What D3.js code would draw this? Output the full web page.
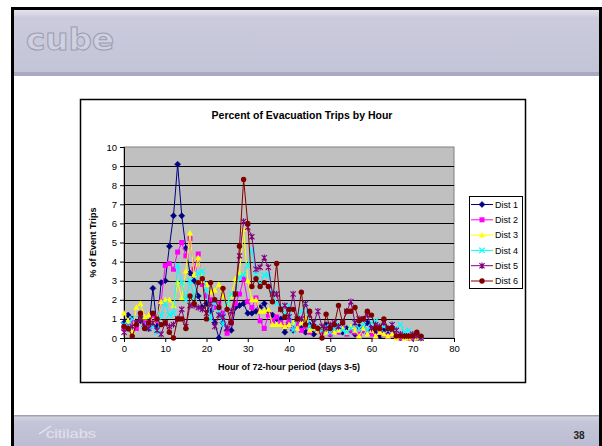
<!DOCTYPE html>
<html>
<head>
<meta charset="utf-8">
<script src="https://cdn.jsdelivr.net/npm/d3@7"></script>
<style>
  body { margin: 0; background: #fff; }
  svg { display: block; }
  text { font-family: "Liberation Sans", Arial, sans-serif; }
</style>
</head>
<body>
<svg id="chart" width="602" height="446"></svg>
<script>
// Hourly share of evacuation trips (percent) for each district, hours 0..72
const hours = d3.range(0, 73);

const dist1 = [0.8,1.2,1.0,0.8,0.9,0.6,0.5,2.6,0.6,2.9,3.0,4.8,6.4,9.1,6.4,4.7,3.4,3.0,2.2,1.6,
  1.8,1.4,0.8,0.0,0.8,0.4,0.4,1.6,1.7,1.8,1.3,1.3,1.4,1.6,1.8,1.3,1.2,1.0,1.0,0.3,
  0.8,0.4,0.7,0.5,0.3,0.7,0.2,0.5,0.4,0.7,0.2,0.4,0.6,0.3,0.5,0.4,0.2,0.6,0.4,0.8,
  0.5,0.3,0.1,0.4,0.2,0.3,0.1,0.0,0.1,0.0,0.0,0.0,0.0];

const dist2 = [0.5,0.6,0.9,0.5,1.1,0.8,0.7,1.2,0.9,1.9,3.8,3.9,3.6,4.5,5.0,4.3,5.2,3.6,4.4,2.8,
  2.2,2.0,1.6,1.8,1.3,0.25,0.8,1.8,2.3,3.1,1.9,1.6,2.1,0.9,0.5,1.2,0.9,1.1,0.8,0.6,
  0.9,0.5,0.7,0.4,0.6,0.3,0.5,0.4,0.3,0.5,0.2,0.4,0.3,0.5,0.2,0.4,0.3,0.2,0.4,0.3,
  0.2,0.1,0.3,0.2,0.1,0.2,0.1,0.0,0.1,0.0,0.0,0.0,0.0];

const dist3 = [1.3,0.9,0.3,1.6,1.8,1.1,1.2,0.8,1.0,1.9,2.0,2.0,1.7,2.9,2.1,3.5,5.5,3.3,4.2,3.0,
  2.8,2.4,2.5,2.8,2.2,1.8,2.2,3.1,3.4,5.7,3.0,2.0,2.0,1.4,1.4,1.5,0.7,0.7,0.7,0.6,
  0.7,0.8,0.5,0.8,1.0,0.4,0.5,0.4,0.6,0.3,0.5,0.3,0.4,0.5,0.3,0.6,0.4,0.1,0.5,0.2,
  0.4,0.1,0.3,0.2,0.1,0.2,0.0,0.1,0.0,0.0,0.1,0.0,0.0];

const dist4 = [0.7,0.6,1.0,0.8,1.0,0.7,0.5,0.6,0.3,1.2,1.8,1.2,1.3,3.8,2.9,2.0,3.0,2.1,3.4,3.5,
  2.5,1.0,1.9,1.4,0.7,1.8,2.3,2.3,3.2,3.3,3.8,4.6,3.3,2.8,3.3,3.3,2.4,1.8,1.6,1.3,
  1.7,0.4,1.0,1.4,1.8,0.6,0.8,0.5,0.4,0.6,0.3,0.5,0.7,0.4,0.3,0.5,0.8,0.5,0.7,0.4,
  0.8,0.9,0.5,0.6,0.4,0.7,0.5,0.7,0.3,0.4,0.2,0.1,0.0];

const dist5 = [0.3,0.5,0.6,0.8,1.0,0.6,0.5,0.8,0.4,0.2,0.8,0.6,0.7,1.0,1.5,0.6,1.7,1.7,1.6,1.5,
  1.3,1.8,0.6,1.2,1.1,0.5,1.4,2.3,4.3,6.1,5.8,5.3,3.6,3.7,4.2,3.7,2.3,2.3,1.5,1.7,
  1.1,2.3,1.0,1.0,1.8,1.2,0.8,1.4,0.6,0.5,0.7,0.8,0.6,0.8,1.4,1.9,0.8,1.0,1.0,1.2,
  0.5,0.7,0.6,0.8,0.5,0.7,0.4,0.2,0.1,0.1,0.2,0.1,0.0];

const dist6 = [0.6,0.5,0.1,0.7,1.3,0.5,0.8,1.3,1.0,0.7,0.8,0.3,0.0,1.0,1.0,0.5,2.2,1.8,2.9,3.1,
  1.0,2.9,2.0,1.6,2.6,1.5,0.8,2.3,4.8,8.3,6.0,2.7,3.1,2.7,2.9,2.7,1.9,3.9,1.5,1.1,
  1.5,1.5,1.0,2.4,0.7,1.4,0.6,0.5,0.0,1.25,0.5,0.7,1.7,0.8,1.4,1.4,1.6,0.9,1.0,1.4,
  1.2,0.5,0.5,1.0,0.5,0.5,0.1,0.1,0.1,0.1,0.1,0.3,0.1];

const seriesNames = ["Dist 1", "Dist 2", "Dist 3", "Dist 4", "Dist 5", "Dist 6"];
const seriesColors = ["#000080", "#ff00ff", "#ffff00", "#00ffff", "#800080", "#800000"];
const seriesMarkers = ["diamond", "square", "triangle", "cross", "star", "circle"];
const seriesValues = [dist1, dist2, dist3, dist4, dist5, dist6];

const yTicks = d3.range(0, 11);
const xTicks = [0, 10, 20, 30, 40, 50, 60, 70, 80];

const chartTitle = "Percent of Evacuation Trips by Hour";
const xTitle = "Hour of 72-hour period (days 3-5)";
const yTitle = "% of Event Trips";
const pageNumber = "38";

const svg = d3.select("#chart");

// ---- slide frame ----
const defs = svg.append("defs");
const hg = defs.append("linearGradient").attr("id", "hdr").attr("x1", 0).attr("y1", 0).attr("x2", 0).attr("y2", 1);
hg.append("stop").attr("offset", "0%").attr("stop-color", "#e4e4ee");
hg.append("stop").attr("offset", "12%").attr("stop-color", "#cbcbdc");
hg.append("stop").attr("offset", "100%").attr("stop-color", "#c3c4d7");
const fg = defs.append("linearGradient").attr("id", "ftr").attr("x1", 0).attr("y1", 0).attr("x2", 0).attr("y2", 1);
fg.append("stop").attr("offset", "0%").attr("stop-color", "#d6d6e2");
fg.append("stop").attr("offset", "20%").attr("stop-color", "#c4c5d8");
fg.append("stop").attr("offset", "100%").attr("stop-color", "#bcbdd2");

svg.append("rect").attr("x", 0).attr("y", 0).attr("width", 602).attr("height", 446).attr("fill", "#fff");
svg.append("rect").attr("x", 14).attr("y", 10).attr("width", 586).attr("height", 63).attr("fill", "url(#hdr)");
svg.append("rect").attr("x", 14).attr("y", 72).attr("width", 586).attr("height", 4).attr("fill", "#a9aabf");
svg.append("rect").attr("x", 14).attr("y", 416).attr("width", 586).attr("height", 30).attr("fill", "url(#ftr)");
svg.append("rect").attr("x", 14).attr("y", 415).attr("width", 586).attr("height", 1.5).attr("fill", "#a0a0b0");
// black outer edges
svg.append("rect").attr("x", 11).attr("y", 7).attr("width", 591).attr("height", 3).attr("fill", "#000");
svg.append("rect").attr("x", 11).attr("y", 7).attr("width", 3).attr("height", 439).attr("fill", "#000");
svg.append("rect").attr("x", 599).attr("y", 7).attr("width", 3).attr("height", 439).attr("fill", "#000");

// embossed logo text
svg.append("text").attr("x", 26).attr("y", 50)
  .attr("textLength", 88).attr("lengthAdjust", "spacingAndGlyphs")
  .style("font-family", "'DejaVu Sans', sans-serif").style("font-weight", "bold").style("font-size", "31px")
  .attr("fill", "#cfd0e0").attr("stroke", "#9c9db2").attr("stroke-width", 1)
  .text("cube");
svg.append("text").attr("x", 46).attr("y", 438)
  .attr("textLength", 50).attr("lengthAdjust", "spacingAndGlyphs")
  .style("font-size", "13px").attr("fill", "#e6e6f0").attr("stroke", "#d4d4e2").attr("stroke-width", 0.3)
  .text("citilabs");
svg.append("path").attr("d", "M39,434 L51,426").attr("stroke", "#e6e6f0").attr("stroke-width", 1.5);
svg.append("text").attr("x", 579).attr("y", 439).attr("text-anchor", "middle")
  .style("font-weight", "bold").style("font-size", "10px").attr("fill", "#222")
  .text(pageNumber);

// ---- chart box ----
svg.append("rect").attr("x", 80.5).attr("y", 99.5).attr("width", 445).attr("height", 283)
  .attr("fill", "#fff").attr("stroke", "#000").attr("stroke-width", 1.5);

svg.append("text").attr("x", 302).attr("y", 119).attr("text-anchor", "middle")
  .style("font-weight", "bold").style("font-size", "10.5px").attr("fill", "#000")
  .text(chartTitle);

const x = d3.scaleLinear().domain([0, 80]).range([124, 454]);
const y = d3.scaleLinear().domain([0, 10]).range([338, 147]);

// plot area
svg.append("rect").attr("x", x(0)).attr("y", y(10)).attr("width", x(80) - x(0)).attr("height", y(0) - y(10))
  .attr("fill", "#c0c0c0").attr("stroke", "#808080").attr("stroke-width", 1);

svg.append("g").selectAll("line").data(yTicks.filter(t => t > 0 && t < 10)).join("line")
  .attr("x1", x(0)).attr("x2", x(80))
  .attr("y1", d => Math.round(y(d)) + 0.5).attr("y2", d => Math.round(y(d)) + 0.5)
  .attr("stroke", "#000").attr("stroke-width", 1);

const yAxis = svg.append("g").attr("transform", `translate(${x(0)},0)`)
  .call(d3.axisLeft(y).tickValues(yTicks).tickSize(4).tickPadding(3).tickFormat(d3.format("d")));
const xAxis = svg.append("g").attr("transform", `translate(0,${y(0)})`)
  .call(d3.axisBottom(x).tickValues(xTicks).tickSize(4).tickPadding(3).tickFormat(d3.format("d")));
[yAxis, xAxis].forEach(g => {
  g.selectAll("path,line").attr("stroke", "#000");
  g.selectAll("text").style("font-size", "9.5px").style("font-family", "'Liberation Sans', Arial, sans-serif").attr("fill", "#000");
});

svg.append("text").attr("x", 289).attr("y", 370).attr("text-anchor", "middle")
  .style("font-weight", "bold").style("font-size", "9px").text(xTitle);
svg.append("text").attr("transform", `translate(96,242.5) rotate(-90)`).attr("text-anchor", "middle")
  .style("font-weight", "bold").style("font-size", "9px").text(yTitle);

// ---- markers ----
function drawMarker(g, kind, color) {
  if (kind === "diamond") {
    g.append("path").attr("d", "M0,-3 L3,0 L0,3 L-3,0Z").attr("fill", color).attr("stroke", color).attr("stroke-width", 0.6);
  } else if (kind === "square") {
    g.append("rect").attr("x", -2.5).attr("y", -2.5).attr("width", 5).attr("height", 5).attr("fill", color);
  } else if (kind === "triangle") {
    g.append("path").attr("d", "M0,-3.2 L3,2.4 L-3,2.4Z").attr("fill", color);
  } else if (kind === "cross") {
    g.append("path").attr("d", "M-2.8,-2.8 L2.8,2.8 M-2.8,2.8 L2.8,-2.8").attr("stroke", color).attr("stroke-width", 1.2);
  } else if (kind === "star") {
    g.append("path").attr("d", "M-2.6,-2.6 L2.6,2.6 M-2.6,2.6 L2.6,-2.6 M0,-3.2 L0,3.2").attr("stroke", color).attr("stroke-width", 1.1);
  } else {
    g.append("circle").attr("r", 2.7).attr("fill", color);
  }
}

const line = d3.line().x((d, i) => x(hours[i])).y(d => y(d));

seriesValues.forEach((vals, s) => {
  const g = svg.append("g");
  g.append("path").datum(vals).attr("d", line)
    .attr("fill", "none").attr("stroke", seriesColors[s]).attr("stroke-width", 1);
  g.selectAll("g.m").data(vals).join("g").attr("class", "m")
    .attr("transform", (d, i) => `translate(${x(hours[i])},${y(d)})`)
    .each(function () { drawMarker(d3.select(this), seriesMarkers[s], seriesColors[s]); });
});

// ---- legend ----
const lg = svg.append("g");
lg.append("rect").attr("x", 469.5).attr("y", 196.5).attr("width", 53).attr("height", 92)
  .attr("fill", "#fff").attr("stroke", "#000").attr("stroke-width", 1);
seriesNames.forEach((name, s) => {
  const cy = 204.5 + s * 15.3;
  lg.append("line").attr("x1", 471).attr("x2", 493).attr("y1", cy).attr("y2", cy)
    .attr("stroke", seriesColors[s]).attr("stroke-width", 1);
  const m = lg.append("g").attr("transform", `translate(482,${cy})`);
  drawMarker(m, seriesMarkers[s], seriesColors[s]);
  lg.append("text").attr("x", 495).attr("y", cy + 3.3).style("font-size", "9px").text(name);
});
</script>
</body>
</html>
